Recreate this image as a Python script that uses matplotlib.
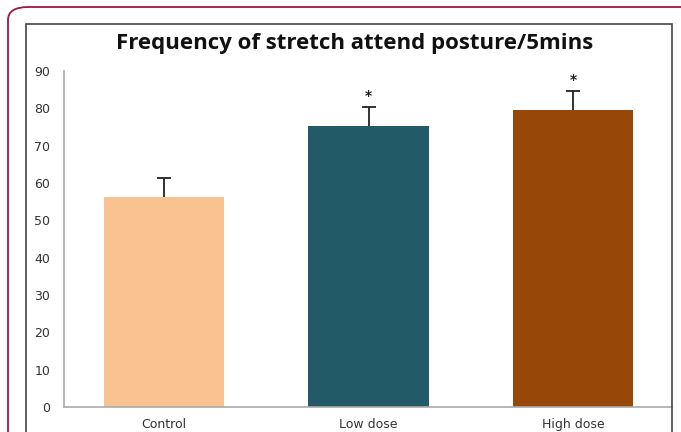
import matplotlib
matplotlib.use("Agg")
import matplotlib.pyplot as plt
from matplotlib.patches import FancyBboxPatch, Rectangle

# data
groups = ["Control", "Low dose", "High dose"]
means = [56.3, 75.3, 79.6]
errors = [5.0, 5.1, 5.0]
marks = ["", "*", "*"]
colors = ["#F9C291", "#225A68", "#974707"]

W, H = 681, 432
fig = plt.figure(figsize=(W / 100, H / 100), dpi=100)

# outer decorative frame (rounded, crimson) and inner chart border
fig.patches.append(FancyBboxPatch((8 / W, -0.2), 1.2, 1.2 - 7 / H,
                                  boxstyle="round,pad=0,rounding_size=0.03",
                                  transform=fig.transFigure, fill=False,
                                  edgecolor="#A3163F", lw=1.3))
fig.patches.append(Rectangle((26 / W, -0.1), (672 - 26) / W, 1.1 - 24 / H,
                             transform=fig.transFigure, fill=False,
                             edgecolor="#444444", lw=1.2))

ax = fig.add_axes([64 / W, 1 - 407 / H, (672 - 64) / W, (407 - 71) / H])
x = list(range(len(groups)))
ax.bar(x, means, width=0.59, color=colors, zorder=2)

# upper-only error bars with a cap on top
tops = [m + e for m, e in zip(means, errors)]
ax.vlines(x, means, tops, color="#222222", lw=1.3, zorder=3)
ax.plot(x, tops, ls="none", marker="_", ms=10, mew=1.3, color="#222222", zorder=3)
for i in x:
    if marks[i]:
        ax.text(i, tops[i] + 1.0, marks[i], ha="center", va="bottom",
                fontsize=10, fontweight="bold", color="#222222")

ax.set_ylim(0, 90)
ax.set_xlim(-0.49, 2.485)
ax.set_yticks(range(0, 91, 10))
ax.set_xticks(x)
ax.set_xticklabels(groups)
ax.tick_params(axis="both", length=0, labelsize=9, colors="#333333")
ax.tick_params(axis="y", pad=10)
ax.tick_params(axis="x", pad=8)
for s in ["top", "right"]:
    ax.spines[s].set_visible(False)
for s in ["left", "bottom"]:
    ax.spines[s].set_color("#AAAAAA")
    ax.spines[s].set_linewidth(1.2)

fig.text(355 / W, 1 - 43 / H, "Frequency of stretch attend posture/5mins",
         ha="center", va="center", fontsize=16, fontweight="bold",
         family="Open Sans", color="#111111")

fig.savefig("out.png", dpi=100)
